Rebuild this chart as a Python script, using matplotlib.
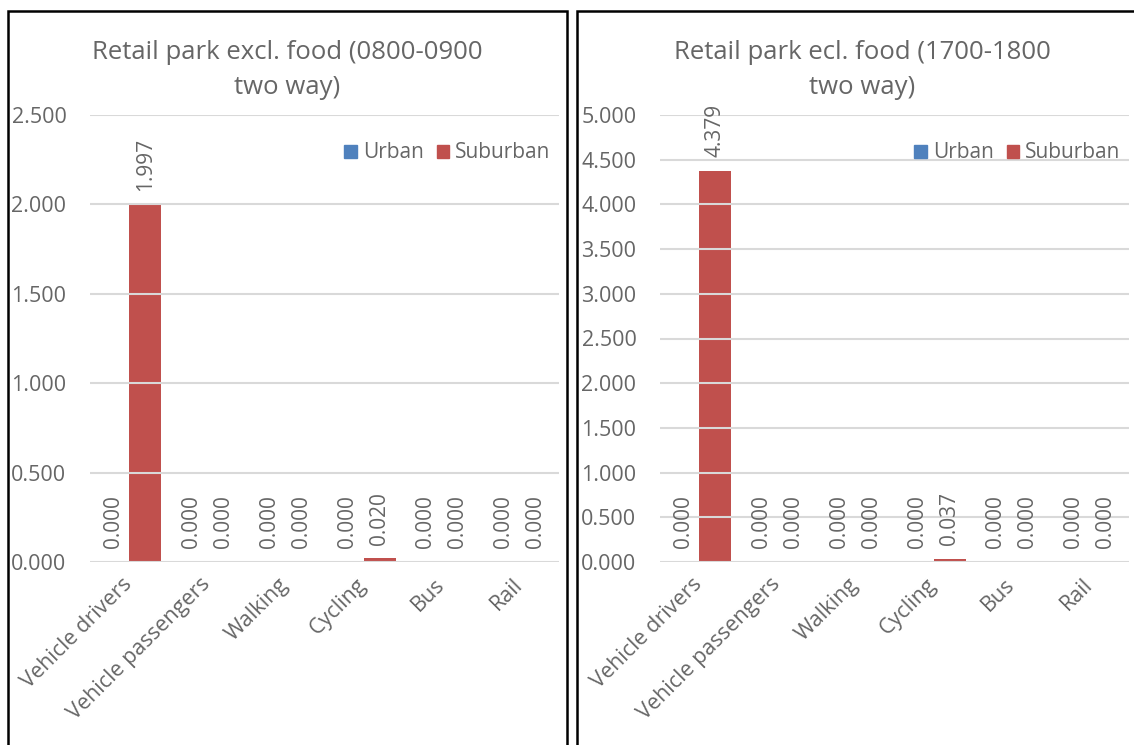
import matplotlib
matplotlib.use("Agg")
import matplotlib.pyplot as plt
import numpy as np
from matplotlib.patches import Rectangle, Patch

plt.rcParams['font.family'] = ['Open Sans', 'DejaVu Sans']

modes = ["Vehicle drivers", "Vehicle passengers", "Walking", "Cycling", "Bus", "Rail"]

# morning peak
am_title = "Retail park excl. food (0800-0900\ntwo way)"
am_urban = [0.000, 0.000, 0.000, 0.000, 0.000, 0.000]
am_suburban = [1.997, 0.000, 0.000, 0.020, 0.000, 0.000]
am_ticks = [0.0, 0.5, 1.0, 1.5, 2.0, 2.5]

# evening peak
pm_title = "Retail park ecl. food (1700-1800\ntwo way)"
pm_urban = [0.000, 0.000, 0.000, 0.000, 0.000, 0.000]
pm_suburban = [4.379, 0.000, 0.000, 0.037, 0.000, 0.000]
pm_ticks = [0.0, 0.5, 1.0, 1.5, 2.0, 2.5, 3.0, 3.5, 4.0, 4.5, 5.0]

blue = "#4F81BD"
red = "#C0504D"
grey = "#666666"
gridc = "#D9D9D9"

W, H = 1134, 745
fig = plt.figure(figsize=(W / 100, H / 100), dpi=100)


def px(x0, y0, w, h):
    # pixel box (from top-left) -> figure fraction
    return [x0 / W, 1 - (y0 + h) / H, w / W, h / H]


def panel(ax, title, urban, suburban, ticks, frame_x, frame_w):
    x = np.arange(len(modes))
    bw = 0.41
    b1 = ax.bar(x - bw / 2, urban, bw, color=blue, label="Urban", zorder=1)
    b2 = ax.bar(x + bw / 2, suburban, bw, color=red, label="Suburban", zorder=1)
    for bars in (b1, b2):
        for rect in bars:
            v = rect.get_height()
            ax.annotate("{:.3f}".format(v), (rect.get_x() + rect.get_width() / 2, v),
                        xytext=(0, 10), textcoords="offset points",
                        rotation=90, ha="center", va="bottom",
                        fontsize=15, color=grey)
    ax.set_xlim(-0.5, len(modes) - 0.5)
    ax.set_ylim(ticks[0], ticks[-1])
    ax.set_yticks(ticks)
    ax.set_yticklabels(["{:.3f}".format(t) for t in ticks], fontsize=15.5, color=grey)
    ax.set_xticks(x)
    ax.set_xticklabels(modes, fontsize=15.5, color=grey, rotation=45,
                       ha="right", va="center", rotation_mode="anchor")
    ax.tick_params(axis="both", length=0)
    ax.tick_params(axis="y", pad=17)
    ax.tick_params(axis="x", pad=14)
    for s in ax.spines.values():
        s.set_visible(False)
    ax.grid(axis="y", color=gridc, linewidth=1.5)
    ax.set_axisbelow(False)

    fig.text((frame_x + frame_w / 2) / W, 1 - 70 / H, title, ha="center", va="center",
             fontsize=18.5, color=grey, linespacing=1.5)

    handles = [Patch(color=blue, label="Urban"), Patch(color=red, label="Suburban")]
    ax.legend(handles=handles, loc="center right", bbox_to_anchor=(1.0, 0.915),
              ncol=2, frameon=False, fontsize=15, labelcolor=grey,
              handlelength=0.6, handleheight=0.6, handletextpad=0.3,
              columnspacing=0.6, borderaxespad=0)

    fig.patches.append(Rectangle((frame_x / W, -0.1), frame_w / W, 1.1 - 11 / H,
                                 transform=fig.transFigure, fill=False,
                                 edgecolor="black", linewidth=1.8, clip_on=False))


ax1 = fig.add_axes(px(90, 115, 469, 447))
panel(ax1, am_title, am_urban, am_suburban, am_ticks, 8, 559)

ax2 = fig.add_axes(px(660, 115, 469, 447))
panel(ax2, pm_title, pm_urban, pm_suburban, pm_ticks, 577, 570)

fig.savefig("out.png", dpi=100)
